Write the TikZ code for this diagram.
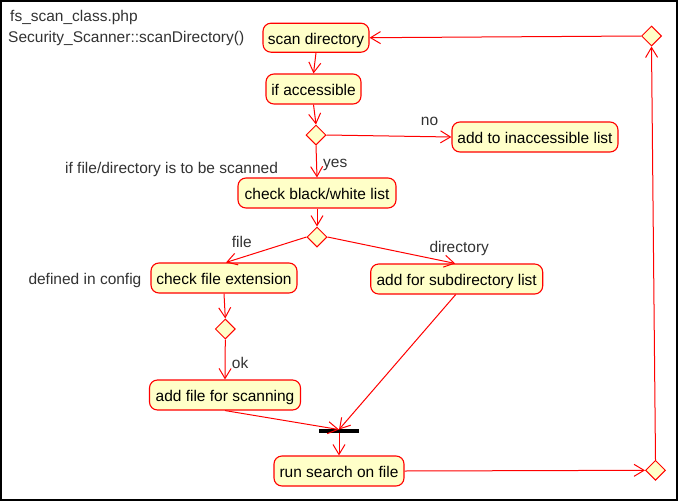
\documentclass[tikz,border=0pt]{standalone}
\usepackage{fontspec}
\setmainfont{Liberation Sans}
\usetikzlibrary{shapes.geometric,arrows.meta}
\definecolor{actfill}{RGB}{255,255,200}
\definecolor{edgered}{RGB}{255,0,0}
\definecolor{labgray}{RGB}{50,50,50}
\begin{document}
\begin{tikzpicture}[x=1pt,y=-1pt,
  every node/.style={font=\fontsize{15.5}{18}\selectfont, inner sep=0pt},
  act/.style={draw=edgered, line width=1.1pt, fill=actfill, rounded corners=8pt,
    text height=14.6pt, text depth=2pt, align=center, text=black},
  dec/.style={draw=edgered, line width=1pt, fill=actfill, diamond,
    minimum width=20pt, minimum height=20pt, inner sep=0pt},
  lab/.style={anchor=base west, text=labgray},
  flow/.style={draw=edgered, line width=1pt, -{Straight Barb[length=10pt,width=12pt,line width=1pt]}},
  plain/.style={draw=edgered, line width=1pt}
]
\useasboundingbox (0,0) rectangle (678,501);
\draw[line width=2pt] (1,1) rectangle (676.5,499.5);

% labels
\node[lab] (t1) at (10,21) {fs\_scan\_class.php};
\node[lab] (t2) at (8,42.7) {Security\_Scanner::scanDirectory()};
\node[lab] (t3) at (65,173) {if file/directory is to be scanned};
\node[lab] (t4) at (28.3,284) {defined in config};

% activities
\node[act, minimum width=106pt, minimum height=29pt] (scan) at (316,37.7) {scan directory};
\node[act, minimum width=95pt, minimum height=30pt] (acc) at (313.5,89) {if accessible};
\node[dec] (d1) at (316,135) {};
\node[act, minimum width=166pt, minimum height=30pt] (inacc) at (535,137) {add to inaccessible list};
\node[act, minimum width=158pt, minimum height=30pt] (cbw) at (317,193) {check black/white list};
\node[dec] (d2) at (317,237) {};
\node[act, minimum width=146pt, minimum height=30pt] (cfe) at (224,278) {check file extension};
\node[act, minimum width=172pt, minimum height=30pt] (sub) at (456.7,279) {add for subdirectory list};
\node[dec] (d3) at (225.3,329) {};
\node[act, minimum width=151pt, minimum height=30pt] (afs) at (225,395) {add file for scanning};
\node[fill=black, minimum width=40pt, minimum height=3.5pt] (bar) at (339,431) {};
\node[act, minimum width=130pt, minimum height=30pt] (run) at (339,471) {run search on file};
\node[dec] (dB) at (655.5,470.3) {};
\node[dec] (dT) at (651.5,36) {};

% edge labels
\node[lab] (lno) at (420.7,125) {no};
\node[lab] (lyes) at (323,167) {yes};
\node[lab] (lfile) at (231.7,247) {file};
\node[lab] (ldir) at (429.3,252.5) {directory};
\node[lab] (lok) at (231.7,368) {ok};

% flows
\draw[flow] (scan.south) -- (acc.north);
\draw[flow] (acc.south) -- (d1.north);
\draw[flow] (d1.east) -- (inacc.west);
\draw[flow] (d1.south) -- (cbw.north);
\draw[flow] (cbw.south) -- (d2.north);
\draw[flow] (d2.west) -- ([xshift=2pt]cfe.north);
\draw[flow] (d2.east) -- ([xshift=-1.5pt]sub.north);
\draw[flow] (cfe.south) -- (d3.north);
\draw[flow] (d3.south) -- (afs.north);
\draw[flow] (afs.south) -- ([yshift=-0.5pt]bar.north);
\draw[flow] ([xshift=-1pt]sub.south) -- ([yshift=-0.5pt]bar.north);
\draw[flow] (bar.south) -- (run.north);
\draw[flow] (run.east) -- (dB.west);
\draw[flow] (dB.north) -- (dT.south);
\draw[flow] (dT.west) -- (scan.east);
\end{tikzpicture}
\end{document}
